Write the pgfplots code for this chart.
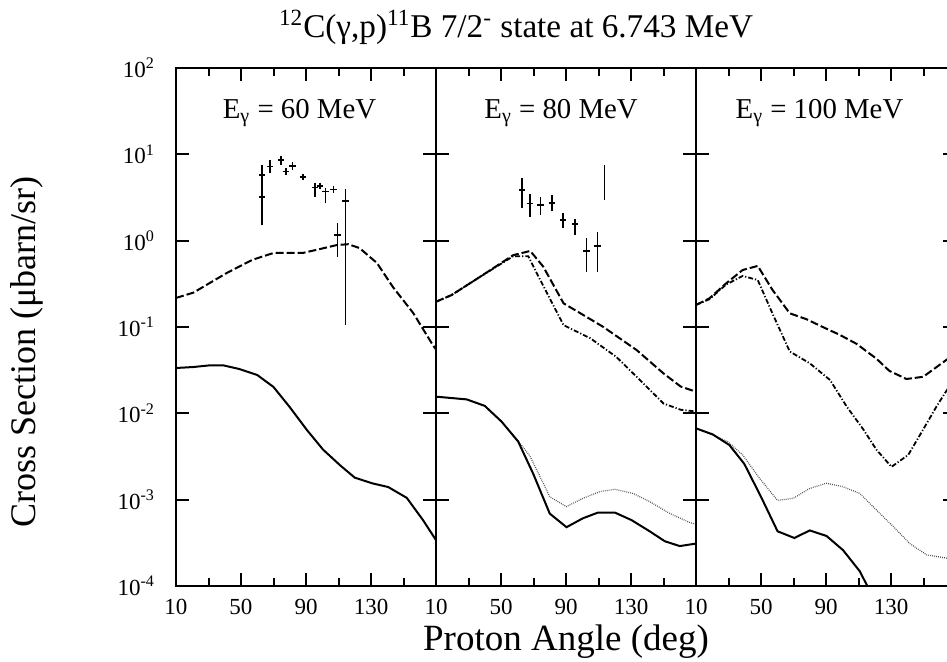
\documentclass[border=0pt]{standalone}
\usepackage{fontspec}
\setmainfont{Liberation Serif}
\usepackage{pgfplots}
\pgfplotsset{compat=1.18}

\newcommand\tenp[1]{10\textsuperscript{#1}}

\pgfplotsset{every axis/.append style={
    scale only axis, width=130pt, height=259pt,
    xmin=10, xmax=170, ymin=1e-4, ymax=1e2,
    xtick={10,50,90,130}, xticklabels={10,50,90,130},
    minor xtick={30,70,110,150},
    ytick={1e-4,1e-3,1e-2,1e-1,1,10,100},
    minor y tick style={draw=none},
    major tick length=6.5pt, minor tick length=4pt,
    tick style={line width=1pt, black},
    axis line style={line width=1pt},
    ticklabel style={font=\fontsize{11.5}{13}\selectfont},
    xticklabel style={yshift=-3pt},
    yticklabel style={xshift=-7pt},
    unbounded coords=jump,
}}
\tikzset{
  solidc/.style={black, line width=1pt},
  dashc/.style={black, line width=1pt, dash pattern=on 4pt off 1.5pt},
  dashdotc/.style={black, line width=0.9pt, dash pattern=on 2.5pt off 1pt on 0.6pt off 1pt},
  dotc/.style={black!70, line width=0.6pt, dash pattern=on 0.4pt off 0.6pt},
  errc/.style={black, line width=0.8pt},
  markc/.style={black, only marks, mark=+, mark size=1.6pt, mark options={line width=0.8pt}},
  elabel/.style={anchor=base, font=\fontsize{14.4}{16}\selectfont},
}

\begin{document}
\begin{tikzpicture}
\path[use as bounding box] (-88pt,-38pt) rectangle (385.5pt,293pt);
\clip (-88pt,-38pt) rectangle (385.5pt,293pt);

% E = 60 MeV
\begin{semilogyaxis}[at={(0pt,0pt)}, anchor=south west,
  yticklabels={\tenp{-4},\tenp{-3},\tenp{-2},\tenp{-1},\tenp{0},\tenp{1},\tenp{2}}]
\addplot[dashc] coordinates {(10,0.217) (20.7,0.25) (41,0.42) (57,0.60) (70,0.72)
  (88,0.72) (98.6,0.80) (109,0.89) (116,0.91) (123,0.82) (133.7,0.55) (143.5,0.29)
  (156,0.145) (168,0.062) (170,0.055)};
\addplot[solidc] coordinates {(10,0.0335) (20.7,0.0344) (31,0.036) (39,0.036)
  (49,0.0326) (60,0.0278) (70,0.0202) (80,0.0118) (90.6,0.0064) (100.5,0.0038)
  (111,0.0025) (120,0.0018) (130.6,0.00155) (140.6,0.0014) (152,0.00105)
  (162,5.8e-4) (170,3.4e-4)};
% error bars (low, high)
\addplot[errc] coordinates {(63,1.5) (63,7.5) (63,nan)
  (68,6.1) (68,8.5) (68,nan) (74.6,7.5) (74.6,9.5) (74.6,nan)
  (77.7,5.8) (77.7,6.8) (77.7,nan) (81.6,6.6) (81.6,8.2) (81.6,nan)
  (88.3,5.2) (88.3,5.8) (88.3,nan) (95.5,3.2) (95.5,4.6) (95.5,nan)
  (98.6,4.0) (98.6,4.6) (98.6,nan) (102,2.7) (102,4.0) (102,nan)
  (107,3.6) (107,4.3) (107,nan) (109.3,0.65) (109.3,1.6) (109.3,nan)
  (114.4,0.105) (114.4,4.0)};
\addplot[markc] coordinates {(63,5.8) (63,3.2) (68,7.2) (74.6,8.6) (77.7,6.3)
  (81.6,7.3) (88.3,5.5) (95.5,4.15) (98.6,4.3) (102,3.7) (107,3.9)
  (109.3,1.16) (114.4,2.9)};
\node[elabel] at (axis cs:86,26) {E\textsubscript{γ} = 60 MeV};
\end{semilogyaxis}

% E = 80 MeV
\begin{semilogyaxis}[at={(130pt,0pt)}, anchor=south west, yticklabels={}]
\addplot[dashc] coordinates {(10,0.196) (19.5,0.234) (37,0.38) (57.5,0.68) (68,0.76)
  (76,0.50) (88.5,0.188) (98.9,0.144) (113,0.10) (133.5,0.054) (150,0.029)
  (160.6,0.0204) (170,0.0178)};
\addplot[dashdotc] coordinates {(10,0.196) (19.5,0.234) (37,0.38) (57.5,0.66)
  (66.8,0.66) (72,0.42) (88.5,0.105) (105,0.074) (121,0.045) (137.5,0.0223)
  (150,0.013) (160.6,0.011) (170,0.0105)};
\addplot[dotc] coordinates {(10,0.0156) (28.9,0.0145) (40,0.0122) (50.4,0.008)
  (60.6,0.0048) (67.8,0.0032) (76,0.00155) (80,0.00108) (90.3,8.3e-4)
  (100.5,0.00104) (111,0.00124) (120,0.00132) (131.3,0.00118) (141.5,9.5e-4)
  (154,6.9e-4) (166.5,5.4e-4) (170,5.2e-4)};
\addplot[solidc] coordinates {(10,0.0156) (28.9,0.0145) (40,0.0122) (50.4,0.008)
  (60.6,0.0047) (69.8,0.002) (80,6.9e-4) (90.3,4.8e-4) (100.5,6.1e-4)
  (109.8,7.1e-4) (120,7.1e-4) (130.3,5.8e-4) (141.5,4.3e-4) (150.8,3.3e-4)
  (160,2.9e-4) (170,3.1e-4)};
\addplot[errc] coordinates {(63.1,2.37) (63.1,5.3) (63.1,nan)
  (67.8,1.9) (67.8,3.5) (67.8,nan) (74.4,2.0) (74.4,3.2) (74.4,nan)
  (81.3,2.2) (81.3,3.4) (81.3,nan) (88.3,1.39) (88.3,2.07) (88.3,nan)
  (95.5,1.16) (95.5,1.8) (95.5,nan) (102.7,0.435) (102.7,1.06) (102.7,nan)
  (109.3,0.435) (109.3,1.27) (109.3,nan) (113.8,2.96) (113.8,7.5)};
\addplot[markc] coordinates {(63.1,3.87) (67.8,2.7) (74.4,2.6) (81.3,2.75)
  (88.3,1.74) (95.5,1.55) (102.7,0.76) (109.3,0.87)};
\node[elabel] at (axis cs:87,26) {E\textsubscript{γ} = 80 MeV};
\end{semilogyaxis}

% E = 100 MeV
\begin{semilogyaxis}[at={(260pt,0pt)}, anchor=south west, yticklabels={}]
\addplot[dashc] coordinates {(10,0.18) (18.3,0.215) (28.5,0.32) (38.7,0.457)
  (48,0.51) (57,0.27) (67.7,0.144) (78,0.123) (88,0.10) (98.5,0.081) (108.7,0.064)
  (121,0.043) (129,0.031) (139.5,0.025) (149.8,0.0265) (164.4,0.042) (170,0.05)};
\addplot[dashdotc] coordinates {(10,0.18) (18.3,0.21) (28.5,0.31) (38.7,0.39)
  (48,0.35) (57,0.144) (67.7,0.052) (80,0.038) (92.5,0.0243) (102.7,0.012)
  (113,0.0065) (121,0.0038) (130.3,0.0024) (140.6,0.0033) (149.8,0.0065)
  (158,0.012) (164.4,0.0186) (170,0.024)};
\addplot[dotc] coordinates {(10,0.0067) (20.3,0.0056) (29.5,0.0047) (38.7,0.0033)
  (49,0.00178) (60.2,9.8e-4) (70,0.00104) (80,0.00135) (90.3,0.00155)
  (100.5,0.00141) (110.8,0.00118) (121,7.6e-4) (131.3,4.9e-4) (141.6,3.1e-4)
  (151.8,2.3e-4) (164.4,2.1e-4) (170,2.05e-4)};
\addplot[solidc] coordinates {(10,0.0067) (20.3,0.0057) (30.5,0.0043) (39.7,0.0026)
  (50,0.00108) (60.2,4.3e-4) (70.5,3.6e-4) (80,4.4e-4) (90.3,3.8e-4)
  (100.5,2.6e-4) (110.8,1.48e-4) (114.3,1.1e-4) (118,8e-5)};
\node[elabel] at (axis cs:86,26) {E\textsubscript{γ} = 100 MeV};
\end{semilogyaxis}

\node[anchor=base, font=\fontsize{16.6}{19}\selectfont] at (170pt,274pt)
  {\textsuperscript{12}C(γ,p)\textsuperscript{11}B 7/2\textsuperscript{-} state at 6.743 MeV};
\node[anchor=base, font=\fontsize{18.5}{21}\selectfont] at (195pt,-32.5pt)
  {Proton Angle (deg)};
\node[rotate=90, font=\fontsize{18}{21}\selectfont] at (-74.5pt,117pt)
  {Cross Section (μbarn/sr)};
\end{tikzpicture}
\end{document}
